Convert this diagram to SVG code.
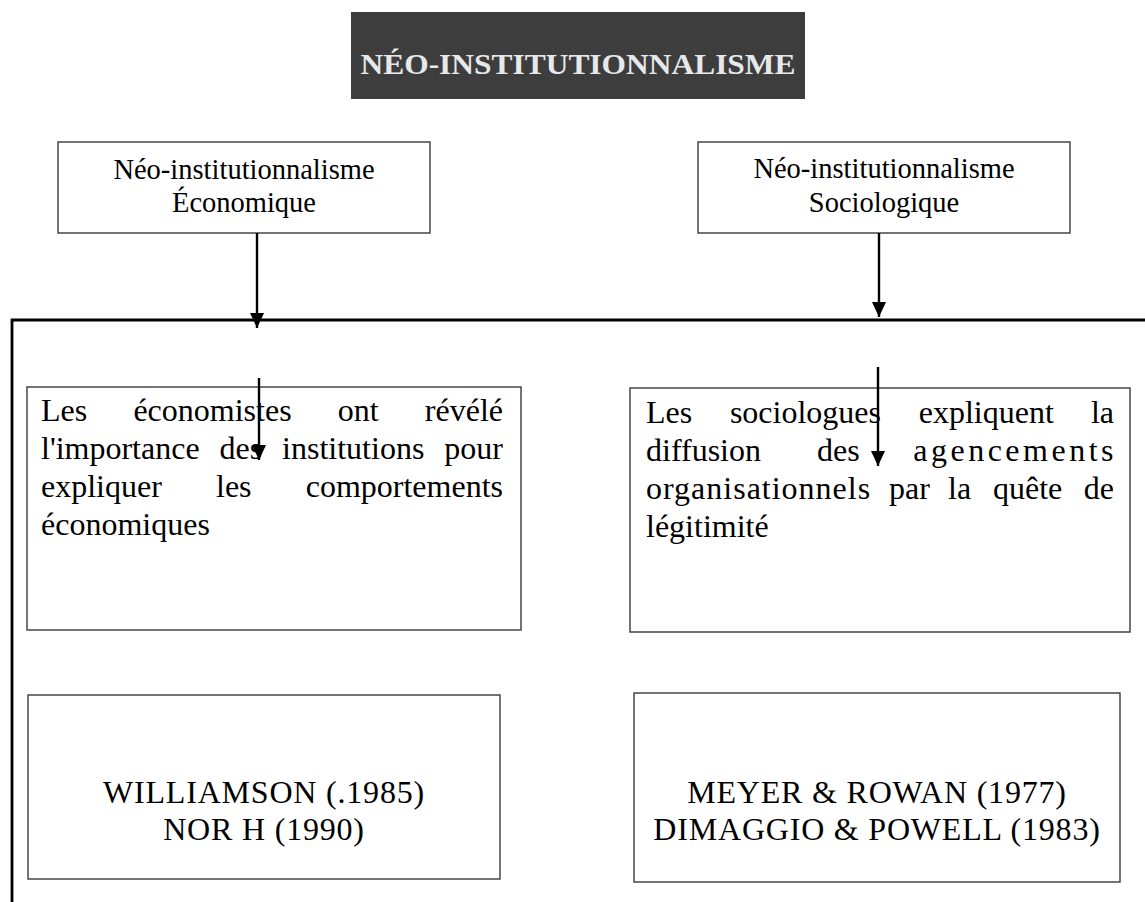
<svg xmlns="http://www.w3.org/2000/svg" width="1145" height="902" viewBox="0 0 1145 902">
<style>
  .box { fill: #ffffff; stroke: #3a3a3a; stroke-width: 1.4; }
  .t { font-family: "Liberation Serif", "Times New Roman", serif; fill: #000000; }
  .head { font-size: 28.5px; text-anchor: middle; }
  .body { font-size: 32px; }
  .ref { font-size: 32px; text-anchor: middle; letter-spacing: 0.8px; }
  .frame { fill: none; stroke: #000000; stroke-width: 2.8; }
  .arrow { fill: none; stroke: #000000; stroke-width: 2.4; marker-end: url(#ah); }
</style>
<defs>
  <marker id="ah" markerUnits="userSpaceOnUse" markerWidth="16" markerHeight="14" refX="15" refY="7" orient="auto">
    <path d="M0,0 L15,7 L0,14 Z" fill="#000000"/>
  </marker>
</defs>
<rect width="1145" height="902" fill="#ffffff"/>

<g id="title">
  <rect x="351" y="12" width="454" height="87" fill="#3d3d3d"/>
  <text x="578" y="74" text-anchor="middle" textLength="435" lengthAdjust="spacingAndGlyphs" font-family="Liberation Serif, serif" font-weight="bold" font-size="29" fill="#e6e8ea">NÉO-INSTITUTIONNALISME</text>
</g>

<g id="frame">
  <polyline class="frame" points="1145,320 12,320 12,902"/>
</g>

<g id="node-eco">
  <rect class="box" x="58" y="142" width="372" height="91"/>
  <text class="t head" x="244" y="179">Néo-institutionnalisme</text>
  <text class="t head" x="244" y="212">Économique</text>
</g>

<g id="node-socio">
  <rect class="box" x="698" y="142" width="372" height="91"/>
  <text class="t head" x="884" y="178">Néo-institutionnalisme</text>
  <text class="t head" x="884" y="212">Sociologique</text>
</g>

<g id="node-eco-text">
  <rect class="box" x="27" y="387" width="494" height="243"/>
  <text class="t body" y="421"><tspan x="41">Les</tspan><tspan x="133.4">économistes</tspan><tspan x="337.8">ont</tspan></text>
  <text class="t body" y="421" x="503" text-anchor="end">révélé</text>
  <text class="t body" y="459"><tspan x="41">l'importance</tspan><tspan x="219.5">des</tspan><tspan x="282.1">institutions</tspan></text>
  <text class="t body" y="459" x="503" text-anchor="end">pour</text>
  <text class="t body" y="497"><tspan x="41">expliquer</tspan><tspan x="216">les</tspan></text>
  <text class="t body" y="497" x="503" text-anchor="end">comportements</text>
  <text class="t body" y="535" x="41">économiques</text>
</g>

<g id="node-socio-text">
  <rect class="box" x="630" y="388" width="500" height="244"/>
  <text class="t body" y="423"><tspan x="646">Les</tspan><tspan x="729.9">sociologues</tspan><tspan x="918.7">expliquent</tspan></text>
  <text class="t body" y="423" x="1114" text-anchor="end">la</text>
  <text class="t body" y="461"><tspan x="646">diffusion</tspan><tspan x="817">des</tspan></text>
  <text class="t body" y="461" x="1117" text-anchor="end" letter-spacing="3.5">agencements</text>
  <text class="t body" y="499"><tspan x="646" letter-spacing="1">organisationnels</tspan><tspan x="889">par</tspan><tspan x="948">la</tspan><tspan x="993">quête</tspan></text>
  <text class="t body" y="499" x="1114" text-anchor="end">de</text>
  <text class="t body" y="537" x="646">légitimité</text>
</g>

<g id="node-eco-refs">
  <rect class="box" x="28" y="695" width="472" height="184"/>
  <text class="t ref" x="264" y="803">WILLIAMSON (.1985)</text>
  <text class="t ref" x="264" y="840">NOR H (1990)</text>
</g>

<g id="node-socio-refs">
  <rect class="box" x="634" y="693" width="486" height="189"/>
  <text class="t ref" x="877" y="803">MEYER &amp; ROWAN (1977)</text>
  <text class="t ref" x="877" y="840">DIMAGGIO &amp; POWELL (1983)</text>
</g>

<g id="connectors">
  <line class="arrow" x1="257" y1="233" x2="257" y2="328"/>
  <line class="arrow" x1="879" y1="233" x2="879" y2="317"/>
  <line class="arrow" x1="259" y1="378" x2="259" y2="460"/>
  <line class="arrow" x1="878" y1="367" x2="878" y2="466"/>
</g>
</svg>
